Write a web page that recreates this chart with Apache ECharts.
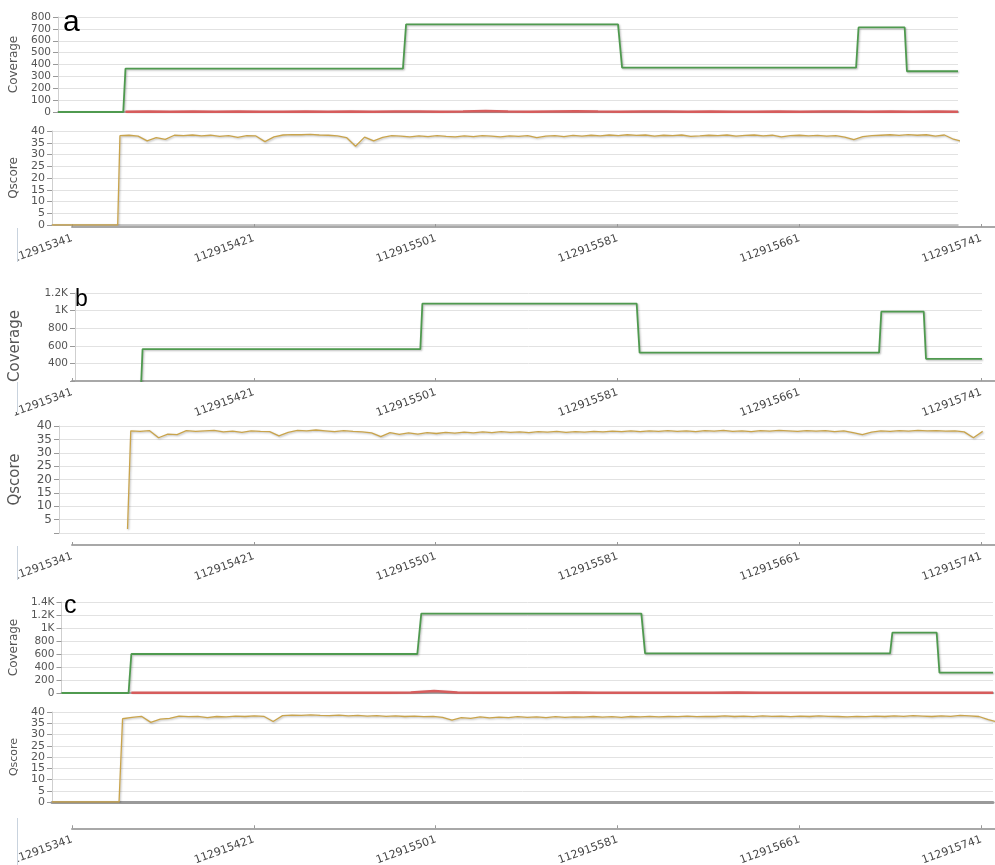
<!DOCTYPE html>
<html><head><meta charset="utf-8">
<script src="https://cdn.jsdelivr.net/npm/echarts@6/dist/echarts.min.js"></script>
<style>html,body{margin:0;padding:0;background:#fff}#c{width:995px;height:865px}</style>
</head><body><div id="c"></div>
<script>
// genomic offset base; x values below are offsets from BASE
const BASE = 112915341;
const X_TICKS = [112915341, 112915421, 112915501, 112915581, 112915661, 112915741];
const PANEL_LABELS = ['a', 'b', 'c'];

// Coverage (green) step lines: [offset, coverage]
const COV_A = [[0,0],[29,0],[30,365],[153.3,365],[154.7,738],[248.9,738],[250.7,373],[354.7,373],[355.8,712],[376.3,712],[377.3,343],[400,343]];
const COV_B = [[0,0],[28.9,0],[29.8,562],[152.3,562],[153.2,1080],[247.7,1080],[249,522],[354.6,522],[355.6,988],[374.3,988],[375.3,452],[400,452]];
const COV_C = [[0,0],[28.8,0],[30,600],[152.8,600],[154.5,1220],[249,1220],[250.6,610],[355.8,610],[356.8,930],[375.8,930],[377,314],[400,314]];

// secondary coverage (red), sampled every 10 offsets starting at offset 30
const RED_START = 30, RED_STEP = 10;
const RED_A = [3,4,2,5,3,4,3,2,4,3,5,3,4,4,3,5,8,4,3,5,7,4,3,4,5,3,4,3,2,4,3,4,5,3,4,3,4,3];
const RED_B = [3,4,3,5,3,4,3,4,4,3,5,3,4,4,3,5,6,4,3,5,6,4,3,4,5,3,4,3,3,4,3,4,5,3,4,3,4,3];
const RED_C = [3,4,2,5,3,4,3,5,4,3,5,4,6,30,8,4,5,3,4,6,5,4,3,5,4,3,6,4,5,3,4,3,5,4,3,4,5,3];

// Qscore: head points, then values sampled every 4 offsets from a start offset
const QS_STEP = 4;
const QS_A_HEAD = [[0,0],[29,0]];
const QS_A_START = 30;
const QS_A = [38,38.2,37.8,35.8,37.2,36.4,38.2,38,38.3,37.9,38.2,37.7,38,37.3,38,37.9,35.5,37.5,38.3,38.5,38.4,38.6,38.3,38.2,37.9,37.2,33.5,37.4,35.8,37.3,38,37.8,37.5,37.9,37.6,38,37.7,37.5,37.9,37.6,38,37.8,37.5,37.9,37.7,38,37.2,37.8,38,37.6,38.1,37.8,38.2,37.9,38.3,38,38.4,38.1,38.3,37.8,38.2,38,38.3,37.7,37.9,38.2,38,38.3,37.8,38.1,38.3,37.9,38.2,37.5,38,38.2,37.9,38.1,37.8,38,37.4,36.3,37.6,38,38.2,38.4,38.1,38.5,38.2,38.4,37.8,38.3,36.5,35.5];
const QS_B_HEAD = [[29.6,1.5]];
const QS_B_START = 31;
const QS_B = [38.2,38,38.3,35.6,37,36.8,38.3,38,38.2,38.4,37.8,38.1,37.6,38.2,38,37.9,36.3,37.6,38.4,38.2,38.5,38.2,37.9,38.3,38,37.8,37.4,36,37.5,36.9,37.4,37,37.5,37.2,37.6,37.3,37.7,37.4,37.8,37.5,37.9,37.6,37.8,37.5,37.9,37.7,38,37.6,37.9,37.7,38,37.8,38.1,37.9,38.2,37.9,38.2,38,38.3,38,38.2,37.9,38.3,38.1,38.4,38,38.2,37.9,38.3,38.1,38.4,38.2,38,38.3,38.1,38.3,37.9,38.2,37.5,36.8,37.7,38.2,38,38.3,38.1,38.4,38.2,38.3,38.1,38.2,37.8,35.6,38];
const QS_C_HEAD = [[0,0],[28.5,0]];
const QS_C_START = 30;
const QS_C = [37,37.6,38.1,35.4,36.8,37.2,38.2,37.9,38.1,37.5,38,37.8,38.2,38,38.3,38.1,35.8,38.4,38.6,38.5,38.7,38.5,38.4,38.6,38.3,38.5,38.2,38.4,38.1,38.3,38,38.2,37.9,38.1,37.6,36.4,37.5,37.2,37.8,37.4,37.7,37.5,37.9,37.6,37.8,37.5,37.9,37.6,37.8,37.7,38,37.7,37.9,37.6,38,37.8,38.1,37.8,38,37.9,38.2,37.9,38.1,38,38.3,38,38.2,37.9,38.3,38.1,38.2,37.9,38.2,38,38.3,38.1,38,37.8,38.1,37.9,38.2,38,38.3,38.1,38.4,38.2,38,38.3,38.1,38.5,38.3,38,36.6,35.5];

const GREEN = '#4f9a4f', RED = '#d65c5c', GOLD = '#c9a44c';
const FONT = 'DejaVu Sans';
const shadow = {shadowColor:'rgba(0,0,0,0.28)', shadowBlur:2, shadowOffsetX:1, shadowOffsetY:1};

function seq(start, step, vals){ return vals.map((v,i)=>[start+i*step, v]); }
function kfmt(v){ return v >= 1000 ? (v/1000)+'K' : String(v); }

const grids = [
  {left:58, right:37, top:17, height:95},    // 0 a coverage
  {left:52, right:37, top:131, height:94},   // 1 a qscore
  {left:72, right:0, top:226, height:1},     // 2 a label axis
  {left:68, right:13, top:293, height:88},   // 3 b coverage
  {left:72, right:0, top:380, height:1},     // 4 b label axis 1
  {left:52, right:10, top:426, height:107},  // 5 b qscore
  {left:72, right:0, top:544, height:1},     // 6 b label axis 2
  {left:61, right:2, top:602, height:91},    // 7 c coverage
  {left:52, right:2, top:712, height:90},    // 8 c qscore
  {left:72, right:0, top:828, height:1}      // 9 c label axis
];
const LABEL_GRIDS = [2,4,6,9];
const tickVals = X_TICKS.map(t => t - BASE);

const xAxes = grids.map((g,i) => {
  if (LABEL_GRIDS.includes(i)) {
    return {gridIndex:i, type:'value', min:0, max:406, interval:80, position:'bottom',
      axisLine:{show:true, onZero:false, lineStyle:{color:'#a8a8a8', width:2}},
      axisTick:{show:true, inside:true, length:3, customValues:tickVals, lineStyle:{color:'#999'}},
      axisLabel:{show:true, customValues:tickVals, rotate:20, margin:11, fontSize:11, fontFamily:FONT, color:'#444',
        formatter:v => String(BASE + v)},
      splitLine:{show:false}};
  }
  const lineCfg = {0:{color:'#bdbdbd',width:2}, 1:{color:'#b5b5b5',width:1.5}, 3:{color:'#dcdcdc',width:1},
                   5:null, 7:{color:'#bdbdbd',width:2}, 8:{color:'#9a9a9a',width:3}}[i];
  return {gridIndex:i, type:'value', min:0, max:400,
    axisLine:{show:!!lineCfg, onZero:false, lineStyle:lineCfg || {}},
    axisTick:{show:false}, axisLabel:{show:false}, splitLine:{show:false}};
});

function yAx(i, min, max, interval, name, gap, nameSize, labelSize, fmt, namePad){
  return {gridIndex:i, type:'value', min, max, interval,
    name, nameLocation:'middle', nameGap:gap,
    nameTextStyle:{fontFamily:FONT, fontSize:nameSize, color:'#555', padding:namePad || 0},
    axisLine:{show:true, lineStyle:{color:'#cfcfcf'}},
    axisTick:{show:true, length:5, lineStyle:{color:'#999'}},
    axisLabel:{fontFamily:FONT, fontSize:labelSize, color:'#555', margin:7, formatter:fmt,
      showMinLabel:true, showMaxLabel:true},
    splitLine:{show:true, lineStyle:{color:'#e2e2e2', width:1}}};
}
const yAxes = grids.map((g,i) => {
  switch(i){
    case 0: return yAx(0, 0, 800, 100, 'Coverage', 28, 12, 10.5, kfmt);
    case 1: return yAx(1, 0, 40, 5, 'Qscore', 23, 12, 11, v=>String(v));
    case 3: return yAx(3, 200, 1200, 200, 'Coverage', 52, 15, 10.5, v => v === 200 ? '' : kfmt(v), [0,18,0,0]);
    case 5: return yAx(5, 0, 40, 5, 'Qscore', 36, 15, 12, v => v === 0 ? '' : String(v));
    case 7: return yAx(7, 0, 1400, 200, 'Coverage', 34, 12, 10.5, kfmt);
    case 8: return yAx(8, 0, 40, 5, 'Qscore', 24, 11, 11, v=>String(v));
    default: return {gridIndex:i, type:'value', show:false, min:0, max:1};
  }
});

function line(xi, data, color, width){
  return {type:'line', xAxisIndex:xi, yAxisIndex:xi, data, showSymbol:false, symbol:'none',
    clip:true, lineStyle:Object.assign({color, width}, shadow), silent:true};
}
const series = [
  line(0, COV_A, GREEN, 1.8),
  line(0, seq(RED_START, RED_STEP, RED_A), RED, 2.5),
  line(1, QS_A_HEAD.concat(seq(QS_A_START, QS_STEP, QS_A)), GOLD, 1.3),
  line(3, COV_B, GREEN, 1.8),
  line(3, seq(RED_START, RED_STEP, RED_B), RED, 2.5),
  line(5, QS_B_HEAD.concat(seq(QS_B_START, QS_STEP, QS_B)), GOLD, 1.3),
  line(7, COV_C, GREEN, 1.8),
  line(7, seq(RED_START, RED_STEP, RED_C), RED, 2.5),
  line(8, QS_C_HEAD.concat(seq(QS_C_START, QS_STEP, QS_C)), GOLD, 1.3)
];

const titleStyle = (size) => ({fontFamily:'Liberation Sans', fontWeight:'normal', fontSize:size, color:'#000'});
const title = [
  {text:PANEL_LABELS[0], left:58, top:3, textStyle:titleStyle(30)},
  {text:PANEL_LABELS[1], left:70, top:283, textStyle:titleStyle(23)},
  {text:PANEL_LABELS[2], left:59, top:589, textStyle:titleStyle(25)}
];

// left edge of the overview label strips (clips the first label, as in the original)
const STRIPS = [[228, 262], [382, 412], [546, 580], [818, 865]];
const graphic = [];
STRIPS.forEach(([y0, y1]) => {
  graphic.push({type:'rect', left:0, top:y0, z:100, shape:{width:17, height:y1 - y0}, style:{fill:'#fff'}, silent:true});
  graphic.push({type:'line', z:101, shape:{x1:17.5, y1:y0, x2:17.5, y2:y1}, style:{stroke:'#c9d3de', lineWidth:1}, silent:true});
});

const chart = echarts.init(document.getElementById('c'), null, {renderer:'canvas'});
chart.setOption({animation:false, backgroundColor:'#fff', title, grid:grids, xAxis:xAxes, yAxis:yAxes, series, graphic});
</script></body></html>
